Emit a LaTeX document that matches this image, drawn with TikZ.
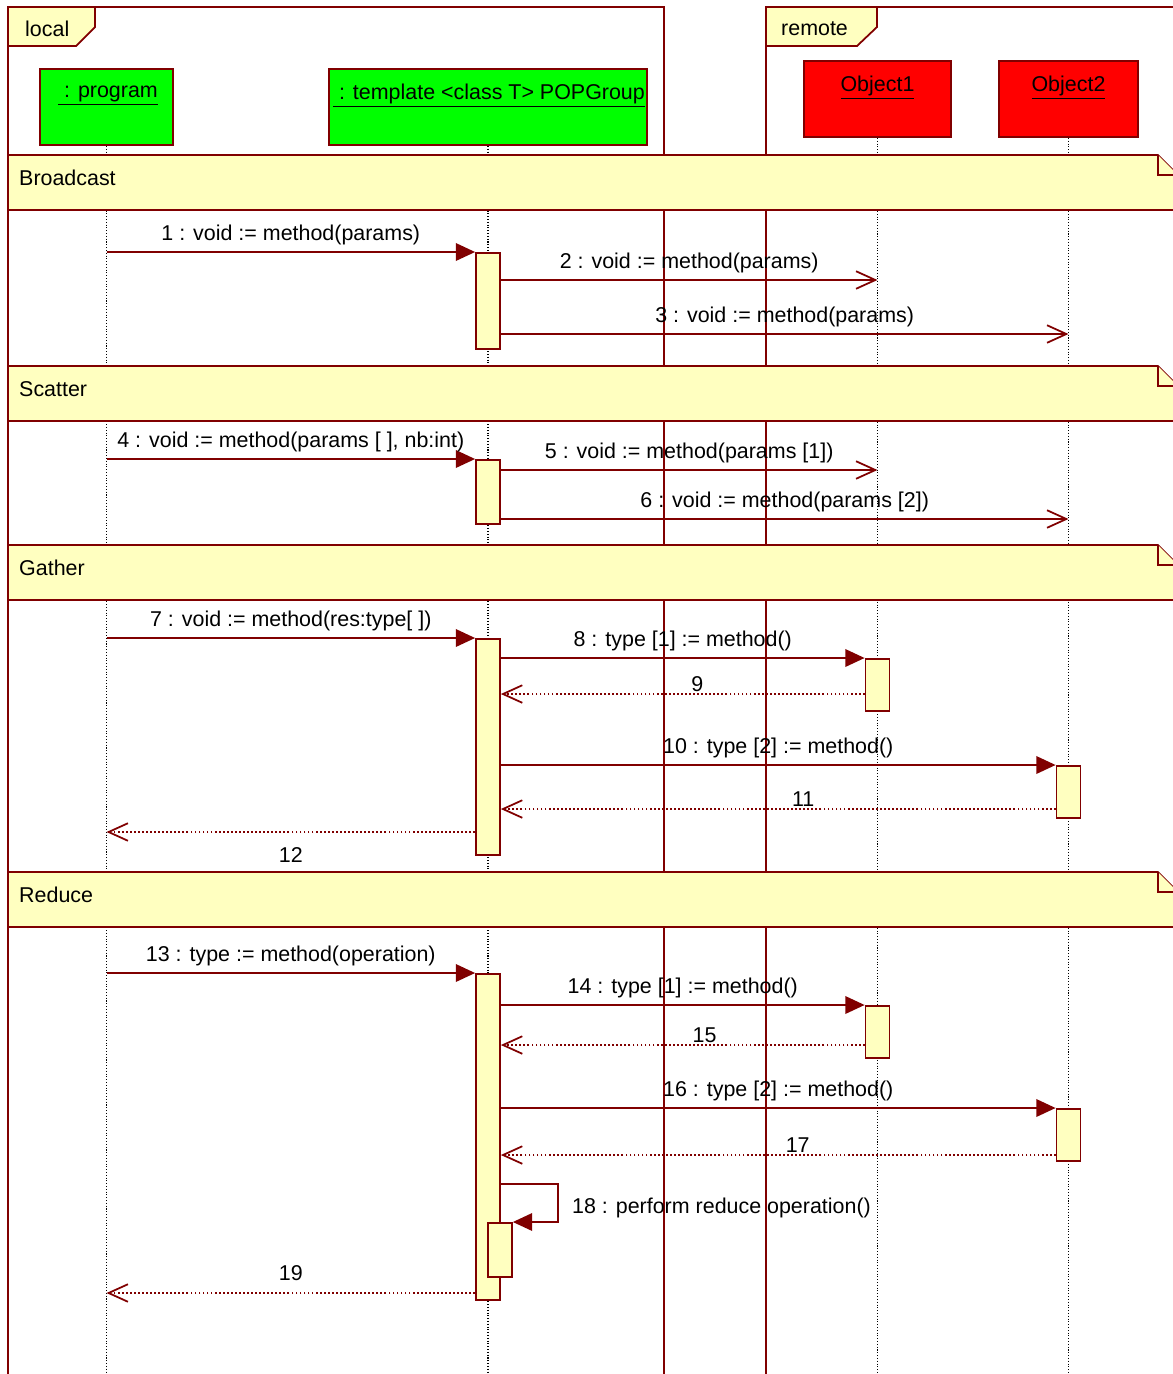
\documentclass[tikz,border=0pt]{standalone}
\usepackage{fontspec}
\setmainfont{Liberation Sans}
\usetikzlibrary{arrows.meta}
\definecolor{umlred}{RGB}{128,0,0}
\definecolor{umlyel}{RGB}{255,255,192}
\begin{document}
\begin{tikzpicture}[x=0.02cm,y=-0.02cm,every node/.style={font=\fontsize{12.2}{14}\selectfont},
  frm/.style={draw=umlred,line width=1pt},
  head/.style={draw=umlred,line width=1pt,minimum width=#1,minimum height=1.52cm,inner sep=0pt},
  life/.style={black,line width=0.6pt,densely dotted},
  act/.style={draw=umlred,fill=umlyel,line width=1pt,minimum width=0.48cm,minimum height=#1,inner sep=0pt,anchor=north},
  band/.style={draw=umlred,fill=umlyel,line width=1pt},
  sync/.style={draw=umlred,line width=1pt,-{Triangle[length=11pt,width=10pt]}},
  async/.style={draw=umlred,line width=1pt,-{Straight Barb[length=11pt,width=10pt]}},
  ret/.style={draw=umlred,line width=1pt,dash pattern=on 1pt off 1.3pt,-{Straight Barb[length=11pt,width=10pt]}},
  rlbl/.style={above,inner sep=1pt}]
\clip (0,0) rectangle (1173,1374);
% frames local / remote
\draw[frm] (8,7) rectangle (664,1400);
\draw[frm] (766,7) rectangle (1200,1400);
\filldraw[frm,fill=umlyel] (8,7) -- (95,7) -- (95,27) -- (76,46) -- (8,46) -- cycle;
\node[anchor=west] (loclbl) at (19,29) {local};
\filldraw[frm,fill=umlyel] (766,7) -- (877,7) -- (877,27) -- (857,46) -- (766,46) -- cycle;
\node[anchor=west] (remlbl) at (775,29) {remote};
% lifeline heads
\node[head=2.66cm,fill=green] (prog) at (106.5,107) {};
\node[head=6.36cm,fill=green] (grp) at (488,107) {};
\node[head=2.94cm,fill=red] (obj1) at (877.5,99) {};
\node[head=2.78cm,fill=red] (obj2) at (1068.5,99) {};
\node (proglbl) at (108,96) {\underline{\ : program}};
\node (grplbl) at (489,96) {\underline{\ : template <class T> POPGroup}};
\node (obj1lbl) at (877.5,88) {\underline{Object1}};
\node (obj2lbl) at (1068.5,88) {\underline{Object2}};
\draw[life] (prog.south) -- (prog.south |- 0,1374);
\draw[life] (grp.south) -- (grp.south |- 0,1374);
\draw[life] (obj1.south) -- (obj1.south |- 0,1374);
\draw[life] (obj2.south) -- (obj2.south |- 0,1374);
% fragment bands
\foreach \y/\txt/\nm in {155/Broadcast/bcast,366/Scatter/scat,545/Gather/gath,872/Reduce/red}{
  \filldraw[band] (8,\y) -- (1158,\y) -- (1178,\y+20) -- (1178,\y+55) -- (8,\y+55) -- cycle;
  \draw[band] (1158,\y) |- (1178,\y+20);
  \node[anchor=west] (\nm) at (13,\y+23) {\txt};
}
% Broadcast
\node[act=1.92cm] (a1) at (488,252) {};
\draw[sync] (prog |- a1.north) -- node[above] {1 : void := method(params)} (a1.north west);
\draw[async] (a1.east |- 0,280) -- node[above] {2 : void := method(params)} (obj1 |- 0,280);
\draw[async] (a1.east |- 0,334) -- node[above] {3 : void := method(params)} (obj2 |- 0,334);
% Scatter
\node[act=1.28cm] (a2) at (488,459) {};
\draw[sync] (prog |- a2.north) -- node[above] {4 : void := method(params [ ], nb:int)} (a2.north west);
\draw[async] (a2.east |- 0,470) -- node[above] {5 : void := method(params [1])} (obj1 |- 0,470);
\draw[async] (a2.east |- 0,519) -- node[above] {6 : void := method(params [2])} (obj2 |- 0,519);
% Gather
\node[act=4.32cm] (a3) at (488,638) {};
\node[act=1.04cm] (o1g) at (877.5,658) {};
\node[act=1.04cm] (o2g) at (1068.5,765) {};
\draw[sync] (prog |- a3.north) -- node[above] {7 : void := method(res:type[ ])} (a3.north west);
\draw[sync] (a3.east |- o1g.north) -- node[above] {8 : type [1] := method()} (o1g.north west);
\draw[ret] (o1g.west |- 0,694) -- node[rlbl,pos=.46] {9} (a3.east |- 0,694);
\draw[sync] (a3.east |- o2g.north) -- node[above] {10 : type [2] := method()} (o2g.north west);
\draw[ret] (o2g.west |- 0,809) -- node[rlbl,pos=.455] {11} (a3.east |- 0,809);
\draw[ret] (a3.west |- 0,832) -- node[below=5pt] {12} (prog |- 0,832);
% Reduce
\node[act=6.52cm] (a4) at (488,973) {};
\node[act=1.04cm] (o1r) at (877.5,1005) {};
\node[act=1.04cm] (o2r) at (1068.5,1108) {};
\node[act=1.08cm] (a5) at (500,1222) {};
\draw[sync] (prog |- a4.north) -- node[above] {13 : type := method(operation)} (a4.north west);
\draw[sync] (a4.east |- o1r.north) -- node[above] {14 : type [1] := method()} (o1r.north west);
\draw[ret] (o1r.west |- 0,1045) -- node[rlbl,pos=.44] {15} (a4.east |- 0,1045);
\draw[sync] (a4.east |- o2r.north) -- node[above] {16 : type [2] := method()} (o2r.north west);
\draw[ret] (o2r.west |- 0,1155) -- node[rlbl,pos=.465] {17} (a4.east |- 0,1155);
\draw[sync] (a4.east |- 0,1184) -- (558,1184) |- (a5.north east);
\node[anchor=west] (m18) at (566,1208) {18 : perform reduce operation()};
\draw[ret] (a4.west |- 0,1293) -- node[above=3pt] {19} (prog |- 0,1293);
\end{tikzpicture}
\end{document}
